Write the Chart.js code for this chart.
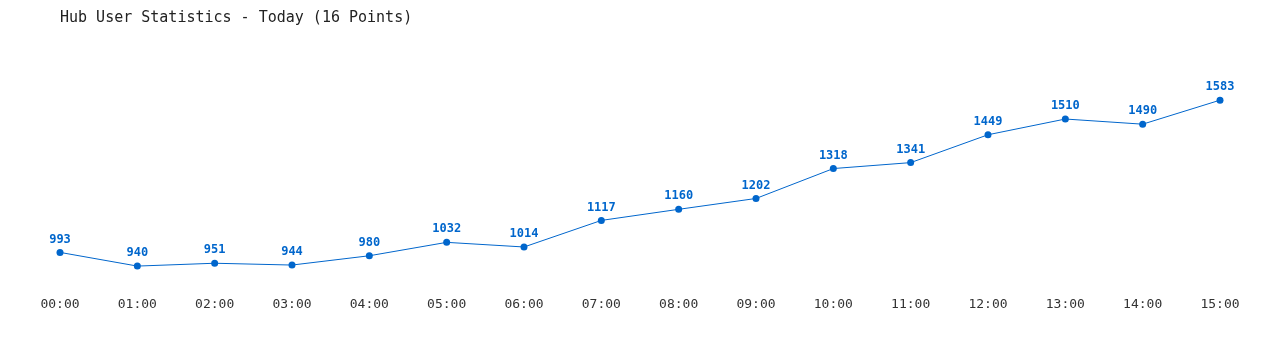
<!DOCTYPE html>
<html>
<head>
<meta charset="utf-8">
<script src="https://cdn.jsdelivr.net/npm/chart.js@4"></script>
<style>
  html, body { margin: 0; padding: 0; background: #fff; }
  #wrap { width: 1280px; height: 350px; }
</style>
</head>
<body>
<div id="wrap"><canvas id="chart"></canvas></div>
<script>
const hours = ["00:00", "01:00", "02:00", "03:00", "04:00", "05:00", "06:00", "07:00",
    "08:00", "09:00", "10:00", "11:00", "12:00", "13:00", "14:00", "15:00"];
const users = [993, 940, 951, 944, 980, 1032, 1014, 1117, 1160, 1202, 1318, 1341, 1449, 1510, 1490, 1583];
const titleText = "Hub User Statistics - Today (16 Points)";

const blue = "#0066cc";
const mono = "'DejaVu Sans Mono', 'Liberation Mono', monospace";

// value labels above each point
const pointLabels = {
    id: "pointLabels",
    afterDatasetsDraw(chart) {
        const ctx = chart.ctx;
        const meta = chart.getDatasetMeta(0);
        ctx.save();
        ctx.font = "bold 12px " + mono;
        ctx.fillStyle = blue;
        ctx.textAlign = "center";
        ctx.textBaseline = "middle";
        meta.data.forEach((pt, i) => {
            ctx.fillText(String(users[i]), pt.x, pt.y - 13);
        });
        ctx.restore();
    }
};

const ctx = document.getElementById("chart").getContext("2d");
new Chart(ctx, {
    type: "line",
    data: {
        labels: hours,
        datasets: [{
            data: users,
            borderColor: blue,
            backgroundColor: blue,
            borderWidth: 1,
            pointRadius: 3.5,
            pointBackgroundColor: blue,
            pointBorderWidth: 0,
            tension: 0,
            fill: false
        }]
    },
    options: {
        responsive: true,
        maintainAspectRatio: false,
        animation: false,
        events: [],
        layout: {
            padding: { left: 60, right: 60, top: 0, bottom: 18 }
        },
        plugins: {
            legend: { display: false },
            tooltip: { enabled: false },
            title: {
                display: true,
                text: titleText,
                align: "start",
                color: "#222",
                font: { family: mono, size: 15, weight: "normal" },
                padding: { top: 9, bottom: 43 }
            }
        },
        scales: {
            x: {
                offset: false,
                grid: { display: false, drawTicks: false },
                border: { display: false },
                ticks: {
                    color: "#333",
                    padding: 20,
                    maxRotation: 0,
                    font: { family: mono, size: 13 }
                }
            },
            y: {
                display: false,
                min: 900,
                max: 1700
            }
        }
    },
    plugins: [pointLabels]
});
</script>
</body>
</html>
